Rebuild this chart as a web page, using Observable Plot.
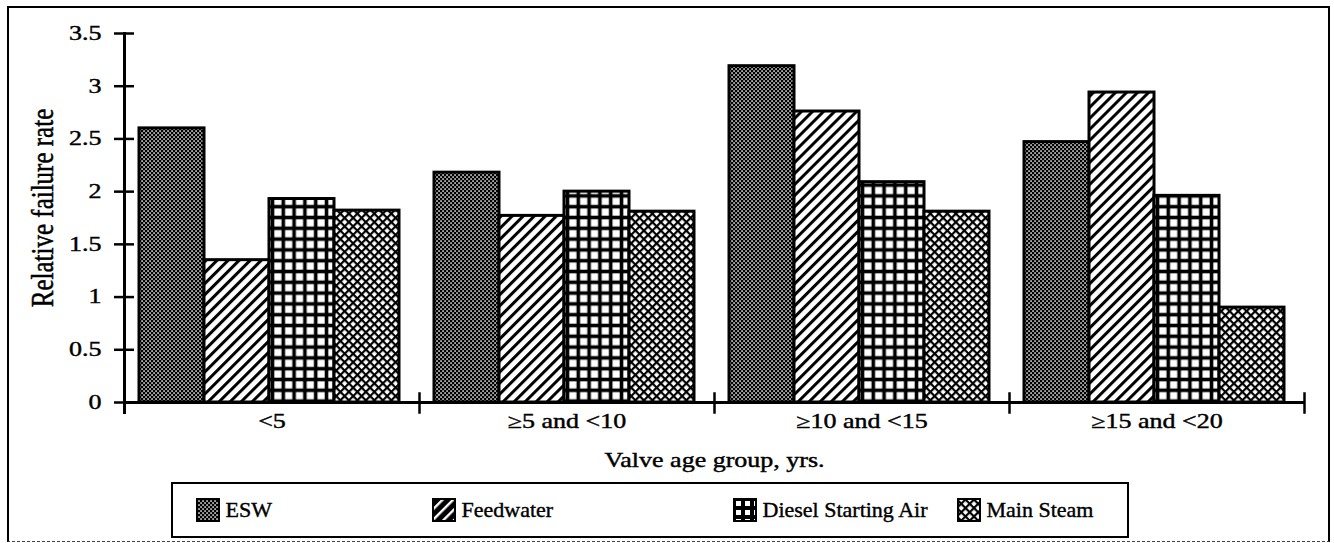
<!DOCTYPE html>
<html>
<head>
<meta charset="utf-8">
<script src="https://cdn.jsdelivr.net/npm/d3@7"></script>
<script src="https://cdn.jsdelivr.net/npm/@observablehq/plot@0.6"></script>
<style>
html, body { margin: 0; padding: 0; background: #fff; }
#wrap { position: relative; width: 1334px; height: 543px; overflow: hidden; background: #fff;
  font-family: "Liberation Serif", "Times New Roman", serif; }
#defs { position: absolute; left: 0; top: 0; width: 0; height: 0; }
#border { position: absolute; left: 7px; top: 6px; width: 1323px; height: 536px;
  border: 2.5px solid #000; border-bottom: 1.5px dashed #444; box-sizing: border-box; }
#chart { position: absolute; left: 0; top: 0; }
#legend { position: absolute; left: 171px; top: 482px; width: 958px; height: 56px;
  border: 2.5px solid #000; box-sizing: border-box; background: #fff; }
.item { position: absolute; top: 0; height: 100%; display: flex; align-items: center; white-space: nowrap; }
.item svg { margin-right: 6px; display: block; }
.item span { font-size: 22px; color: #000; line-height: 1; -webkit-text-stroke: 0.4px #000; }
</style>
</head>
<body>
<div id="wrap">
  <svg id="defs" width="0" height="0"></svg>
  <div id="border"></div>
  <div id="chart"></div>
  <div id="legend"></div>
</div>
<script>
// ---- data ----
const groups = ["<5", "≥5 and <10", "≥10 and <15", "≥15 and <20"];
const series = ["ESW", "Feedwater", "Diesel Starting Air", "Main Steam"];
const esw = [2.60, 2.18, 3.19, 2.47];
const feedwater = [1.35, 1.77, 2.76, 2.94];
const dieselStartingAir = [1.93, 2.00, 2.09, 1.96];
const mainSteam = [1.82, 1.81, 1.81, 0.90];
const yTicks = [0, 0.5, 1, 1.5, 2, 2.5, 3, 3.5];
const yLabel = "Relative failure rate";
const xLabel = "Valve age group, yrs.";

const seriesValues = [esw, feedwater, dieselStartingAir, mainSteam];
const table = groups.flatMap((g, i) =>
  series.map((s, j) => ({group: g, series: s, value: seriesValues[j][i]})));

// ---- patterns ----
const defs = d3.select("#defs").append("defs");
function pat(id, w, h, rot) {
  const p = defs.append("pattern").attr("id", id).attr("patternUnits", "userSpaceOnUse")
    .attr("width", w).attr("height", h);
  if (rot) p.attr("patternTransform", `rotate(${rot})`);
  return p;
}
// ESW: dark stipple
let p = pat("pat-esw", 4, 4);
p.append("rect").attr("width", 4).attr("height", 4).attr("fill", "#000");
p.append("rect").attr("x", 0.3).attr("y", 0.3).attr("width", 1.5).attr("height", 1.5).attr("fill", "#fff");
p.append("rect").attr("x", 2.3).attr("y", 2.3).attr("width", 1.5).attr("height", 1.5).attr("fill", "#fff");
// Feedwater: diagonal hatching
p = pat("pat-fw", 7.8, 7.8, 45);
p.append("rect").attr("width", 7.8).attr("height", 7.8).attr("fill", "#fff");
p.append("rect").attr("width", 3).attr("height", 7.8).attr("fill", "#000");
// Diesel: square grid
p = pat("pat-dsa", 10.8, 10.8);
p.append("rect").attr("width", 10.8).attr("height", 10.8).attr("fill", "#000");
p.append("rect").attr("x", 3.3).attr("y", 3.3).attr("width", 7.2).attr("height", 7.2).attr("fill", "#fff");
// Main steam: diagonal crosshatch
p = pat("pat-ms", 6, 6, 45);
p.append("rect").attr("width", 6).attr("height", 6).attr("fill", "#fff");
p.append("rect").attr("width", 6).attr("height", 2.2).attr("fill", "#000");
p.append("rect").attr("width", 2.2).attr("height", 6).attr("fill", "#000");
// legend variants
p = pat("pat-fw-l", 7.5, 7.5, 45);
p.append("rect").attr("width", 7.5).attr("height", 7.5).attr("fill", "#000");
p.append("rect").attr("width", 2.4).attr("height", 7.5).attr("fill", "#fff");
p = pat("pat-dsa-l", 9, 9);
p.append("rect").attr("width", 9).attr("height", 9).attr("fill", "#000");
p.append("rect").attr("x", 3).attr("y", 3).attr("width", 5).attr("height", 5).attr("fill", "#fff");

const fills = ["url(#pat-esw)", "url(#pat-fw)", "url(#pat-dsa)", "url(#pat-ms)"];
const legendFills = ["url(#pat-esw)", "url(#pat-fw-l)", "url(#pat-dsa-l)", "url(#pat-ms)"];

// ---- chart ----
const chart = Plot.plot({
  width: 1334,
  height: 480,
  marginLeft: 123,
  marginRight: 30,
  marginTop: 33,
  marginBottom: 78,
  style: {fontFamily: '"Liberation Serif", "Times New Roman", serif', fontSize: "20px", color: "#000", background: "transparent", overflow: "visible"},
  fx: {domain: groups, padding: 0, axis: null},
  x: {domain: series, paddingInner: 0, paddingOuter: 0.254, align: 0.44, axis: null},
  y: {domain: [0, 3.5], axis: null},
  color: {type: "ordinal", domain: series, range: fills},
  marks: [
    Plot.barY(table, {fx: "group", x: "series", y: "value", fill: "series", stroke: "#000", strokeWidth: 3}),
    Plot.ruleY([0], {stroke: "#000", strokeWidth: 3}),
    Plot.frame({anchor: "left", insetTop: 360, insetBottom: -10, stroke: "#000", strokeWidth: 2.5}),
    Plot.frame({anchor: "right", facetAnchor: "right", insetTop: 360, insetBottom: -10, stroke: "#000", strokeWidth: 2.5}),
    Plot.frame({anchor: "left", facetAnchor: "left", insetBottom: -10, stroke: "#000", strokeWidth: 3}),
    Plot.axisY(yTicks, {anchor: "left", tickSize: 20, dx: 10, tickPadding: 13, fontSize: 20,
      tickFormat: d => String(d), strokeWidth: 2.5, label: null}),
    Plot.text([yLabel], {frameAnchor: "left", facetAnchor: "left", rotate: -90, dx: -95, dy: -10,
      textAnchor: "middle", lineAnchor: "top", fontSize: 25, text: d => d, fill: "#000"}),
    Plot.axisFx({anchor: "bottom", tickSize: 0, tickPadding: 11, fontSize: 20,
      label: xLabel, labelAnchor: "center", labelOffset: 64})
  ]
});

// horizontally widen text to match the reference's wide, heavy glyphs
chart.querySelectorAll("text").forEach(t => {
  const tr = t.getAttribute("transform") || "";
  t.setAttribute("transform", tr + (tr.includes("rotate") ? " scale(1,1.3)" : " scale(1.3,1)"));
  t.setAttribute("stroke", "#000");
  t.setAttribute("stroke-width", "0.4");
});
document.getElementById("chart").appendChild(chart);

// ---- legend ----
const legendX = [22.5, 258.5, 559.5, 783.5];
const legend = d3.select("#legend");
series.forEach((s, i) => {
  const item = legend.append("div").attr("class", "item").style("left", legendX[i] + "px");
  const sw = item.append("svg").attr("width", 24).attr("height", 24);
  sw.append("rect").attr("x", 1).attr("y", 1).attr("width", 22).attr("height", 22)
    .attr("fill", legendFills[i]).attr("stroke", "#000").attr("stroke-width", 2);
  item.append("span").text(s);
});
</script>
</body>
</html>
